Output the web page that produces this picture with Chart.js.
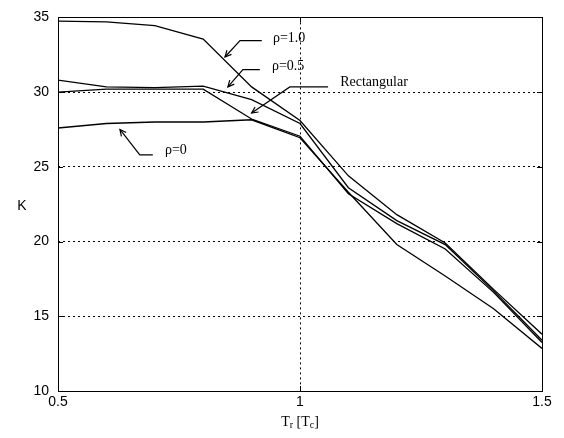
<!DOCTYPE html>
<html>
<head>
<meta charset="utf-8">
<script src="https://cdn.jsdelivr.net/npm/chart.js@4/dist/chart.umd.min.js"></script>
<style>
  html, body { margin: 0; padding: 0; background: #fff; }
  #c { display: block; }
</style>
</head>
<body>
<canvas id="c" width="564" height="438"></canvas>
<script>
// ---- data ----
const tr      = [0.5, 0.6, 0.7, 0.8, 0.9, 1.0, 1.1, 1.2, 1.3, 1.4, 1.5];
const kRho10  = [34.75, 34.7, 34.45, 33.55, 30.35, 28.1, 24.4, 21.8, 19.9, 16.8, 13.8];
const kRho05  = [30.8, 30.35, 30.3, 30.4, 29.5, 27.9, 23.6, 21.4, 19.8, 16.7, 13.4];
const kRect   = [30.0, 30.2, 30.2, 30.2, 28.2, 27.05, 23.2, 21.2, 19.5, 16.6, 13.25];
const kRho0   = [27.6, 27.9, 28.0, 28.0, 28.15, 26.95, 23.3, 19.8, 17.7, 15.5, 12.85];
const xTicks  = [0.5, 1, 1.5];
const yTicks  = [10, 15, 20, 25, 30, 35];
const seriesNames = ['ρ=1.0', 'ρ=0.5', 'Rectangular', 'ρ=0'];

// annotation callouts (data units): label, text anchor, line end, elbow, arrow tip
const calloutText  = ['ρ=1.0', 'ρ=0.5', 'Rectangular', 'ρ=0'];
const calloutLabel = [[0.944, 33.6], [0.942, 31.7], [1.083, 30.65], [0.721, 26.1]];
const calloutEnd   = [[0.921, 33.45], [0.917, 31.5], [1.058, 30.35], [0.696, 25.8]];
const calloutElbow = [[0.876, 33.45], [0.882, 31.5], [0.979, 30.35], [0.669, 25.8]];
const calloutTip   = [[0.845, 32.35], [0.851, 30.35], [0.900, 28.6], [0.628, 27.5]];

const allSeries = [kRho10, kRho05, kRect, kRho0];
const datasets = allSeries.map((arr, i) => ({
  label: seriesNames[i],
  data: tr.map((x, j) => ({ x: x, y: arr[j] })),
  borderColor: '#000',
  borderWidth: 1.3,
  pointRadius: 0,
  fill: false,
  tension: 0
}));

const boxAndExtras = {
  id: 'boxAndExtras',
  afterDatasetsDraw(chart) {
    const ctx = chart.ctx;
    const a = chart.chartArea;
    const xs = chart.scales.x, ys = chart.scales.y;
    ctx.save();
    // box
    ctx.strokeStyle = '#000';
    ctx.lineWidth = 1;
    ctx.setLineDash([]);
    ctx.strokeRect(Math.round(a.left) + 0.5, Math.round(a.top) + 0.5,
                   Math.round(a.right - a.left), Math.round(a.bottom - a.top));
    // inward ticks
    const tl = 5;
    ctx.beginPath();
    yTicks.forEach(v => {
      const p = Math.round(ys.getPixelForValue(v)) + 0.5;
      ctx.moveTo(a.left, p); ctx.lineTo(a.left + tl, p);
      ctx.moveTo(a.right, p); ctx.lineTo(a.right - tl, p);
    });
    xTicks.forEach(v => {
      const p = Math.round(xs.getPixelForValue(v)) + 0.5;
      ctx.moveTo(p, a.bottom); ctx.lineTo(p, a.bottom - tl);
      ctx.moveTo(p, a.top); ctx.lineTo(p, a.top + tl);
    });
    ctx.stroke();

    // callouts
    ctx.lineWidth = 1.2;
    ctx.font = '14px "Liberation Serif", "DejaVu Serif", serif';
    ctx.fillStyle = '#000';
    ctx.textBaseline = 'middle';
    ctx.textAlign = 'left';
    calloutText.forEach((t, i) => {
      const P = pt => [xs.getPixelForValue(pt[0]), ys.getPixelForValue(pt[1])];
      const e = P(calloutEnd[i]), b = P(calloutElbow[i]), tp = P(calloutTip[i]);
      ctx.beginPath();
      ctx.moveTo(e[0], e[1]); ctx.lineTo(b[0], b[1]); ctx.lineTo(tp[0], tp[1]);
      ctx.stroke();
      const ang = Math.atan2(tp[1] - b[1], tp[0] - b[0]);
      const hl = 7, spread = 0.45;
      ctx.beginPath();
      ctx.moveTo(tp[0] - hl * Math.cos(ang - spread), tp[1] - hl * Math.sin(ang - spread));
      ctx.lineTo(tp[0], tp[1]);
      ctx.lineTo(tp[0] - hl * Math.cos(ang + spread), tp[1] - hl * Math.sin(ang + spread));
      ctx.stroke();
      const L = P(calloutLabel[i]);
      ctx.fillText(t, L[0], L[1]);
    });

    // y-axis title (upright)
    ctx.font = '14px "Liberation Sans", Arial, sans-serif';
    ctx.textAlign = 'center';
    ctx.fillText('K', 22, (a.top + a.bottom) / 2 + 2);

    // x-axis title with subscripts: T_r [T_c]
    const big = '14px "Liberation Serif", "DejaVu Serif", serif';
    const small = '10px "Liberation Serif", "DejaVu Serif", serif';
    const parts = [['T', big, 0], ['r', small, 3], [' [T', big, 0], ['c', small, 3], [']', big, 0]];
    let total = 0;
    parts.forEach(p => { ctx.font = p[1]; total += ctx.measureText(p[0]).width; });
    let x0 = (a.left + a.right) / 2 - total / 2;
    const yBase = 422;
    ctx.textAlign = 'left';
    parts.forEach(p => {
      ctx.font = p[1];
      ctx.fillText(p[0], x0, yBase + p[2]);
      x0 += ctx.measureText(p[0]).width;
    });
    ctx.restore();
  }
};

new Chart(document.getElementById('c'), {
  type: 'line',
  data: { datasets: datasets },
  options: {
    responsive: false,
    animation: false,
    devicePixelRatio: 1,
    layout: { padding: { top: 12, right: 22, left: 0, bottom: 0 } },
    plugins: { legend: { display: false }, tooltip: { enabled: false } },
    scales: {
      x: {
        type: 'linear',
        min: 0.5, max: 1.5,
        afterBuildTicks: s => { s.ticks = xTicks.map(v => ({ value: v })); },
        afterFit: s => { s.height = 47; },
        grid: { color: '#000', lineWidth: 1, drawTicks: false },
        border: { display: false, dash: [2, 3] },
        ticks: {
          color: '#000', padding: 3,
          font: { family: '"Liberation Sans", Arial, sans-serif', size: 14 },
          maxRotation: 0,
          callback: v => String(v)
        }
      },
      y: {
        type: 'linear',
        min: 10, max: 35,
        afterBuildTicks: s => { s.ticks = yTicks.map(v => ({ value: v })); },
        afterFit: s => { s.width = 58; },
        grid: { color: '#000', lineWidth: 1, drawTicks: false },
        border: { display: false, dash: [2, 3] },
        ticks: {
          color: '#000', padding: 9,
          font: { family: '"Liberation Sans", Arial, sans-serif', size: 14 },
          callback: v => String(v)
        }
      }
    }
  },
  plugins: [boxAndExtras]
});
</script>
</body>
</html>
